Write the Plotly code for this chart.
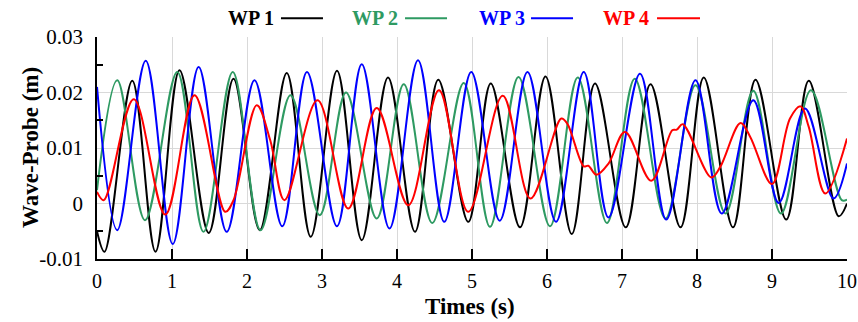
import plotly.graph_objects as go

# ---- data ----
t_wp1 = [0, 0.10, 0.47, 0.78, 1.10, 1.49, 1.82, 2.17, 2.53, 2.85, 3.20, 3.53, 3.88, 4.24, 4.55,
         4.95, 5.25, 5.64, 5.98, 6.33, 6.64, 7.05, 7.38, 7.78, 8.09, 8.48, 8.78, 9.19, 9.49, 9.89, 10.0]
v_wp1 = [-0.005, -0.0087, 0.0221, -0.0087, 0.024, -0.0053, 0.0225, -0.0048, 0.0235, -0.006, 0.0239,
         -0.0066, 0.0227, -0.0051, 0.0223, -0.0033, 0.0216, -0.0043, 0.0229, -0.0055, 0.0216, -0.0043,
         0.0215, -0.0043, 0.0227, -0.0043, 0.0223, -0.0029, 0.0221, -0.0023, 0.0]

t_wp2 = [0, 0.27, 0.64, 1.07, 1.42, 1.81, 2.18, 2.58, 2.97, 3.32, 3.73, 4.09, 4.47, 4.89, 5.24,
         5.62, 6.04, 6.41, 6.80, 7.17, 7.58, 7.98, 8.38, 8.75, 9.12, 9.52, 9.93, 10.0]
v_wp2 = [0.0024, 0.0222, -0.003, 0.0237, -0.0051, 0.0237, -0.0048, 0.0195, -0.0021, 0.020, -0.0027,
         0.0215, -0.0035, 0.0217, -0.0042, 0.0228, -0.0041, 0.0227, -0.0035, 0.0225, -0.0027, 0.0213,
         -0.0018, 0.0203, -0.0018, 0.0204, 0.0006, 0.0007]

t_wp3 = [0, 0.27, 0.65, 1.01, 1.355, 1.73, 2.10, 2.47, 2.80, 3.20, 3.53, 3.90, 4.28, 4.63, 4.99,
         5.37, 5.74, 6.12, 6.49, 6.82, 7.24, 7.59, 7.98, 8.33, 8.75, 9.09, 9.44, 9.82, 10.0]
v_wp3 = [0.021, -0.0048, 0.0257, -0.0073, 0.0246, -0.0051, 0.0222, -0.0041, 0.0237, -0.0041, 0.0251,
         -0.0045, 0.0258, -0.0033, 0.0237, -0.0031, 0.0237, -0.0033, 0.0237, -0.0025, 0.0234, -0.0029,
         0.0222, -0.0018, 0.0186, 0.0001, 0.0171, 0.0009, 0.0072]

t_wp4 = [0, 0.09, 0.49, 0.91, 1.30, 1.71, 1.82, 2.13, 2.31, 2.50, 2.94, 3.35, 3.73, 4.15, 4.56,
         4.95, 5.41, 5.78, 6.19, 6.27, 6.49, 6.55, 6.66, 6.82, 7.04, 7.39, 7.67, 7.73, 7.81, 8.19,
         8.31, 8.58, 8.71, 9.0, 9.24, 9.38, 9.49, 9.71, 10.0]
v_wp4 = [0.0021, 0.0006, 0.0188, -0.002, 0.0195, -0.0015, 0.0006, 0.0177, 0.0114, 0.0006, 0.0186,
         -0.0009, 0.0172, -0.0003, 0.0204, -0.0015, 0.0194, 0.0009, 0.0153, 0.0144, 0.0067, 0.0068,
         0.0052, 0.0072, 0.0129, 0.0041, 0.0132, 0.0133, 0.0143, 0.0047, 0.0066, 0.0145, 0.012,
         0.0035, 0.0153, 0.0175, 0.0138, 0.0018, 0.0117]

series_names = ["WP 1", "WP 2", "WP 3", "WP 4"]
series_colors = ["#000000", "#2E9A62", "#0000FF", "#FF0000"]

x_ticks = [0, 1, 2, 3, 4, 5, 6, 7, 8, 9, 10]
y_ticks = [-0.01, 0, 0.01, 0.02, 0.03]
y_ticktext = ["-0.01", "0", "0.01", "0.02", "0.03"]
y_minor = [-0.005, 0.005, 0.015, 0.025]

x_title = "Times (s)"
y_title = "Wave-Probe (m)"

# legend placement (paper coords): text right edge, line start, line end
leg_text_x = [0.2387, 0.4040, 0.5733, 0.7387]
leg_line_x0 = [0.2453, 0.4107, 0.5787, 0.7467]
leg_line_x1 = [0.3013, 0.4667, 0.6347, 0.8040]
leg_y = 1.085

FONT = "Liberation Serif"

fig = go.Figure()
for t, v, name, col in zip([t_wp1, t_wp2, t_wp3, t_wp4], [v_wp1, v_wp2, v_wp3, v_wp4],
                           series_names, series_colors):
    fig.add_trace(go.Scatter(x=t, y=v, mode="lines", name=name, showlegend=False,
                             line=dict(color=col, width=2, shape="spline", smoothing=1.0)))

for i, (name, col) in enumerate(zip(series_names, series_colors)):
    fig.add_annotation(x=leg_text_x[i], y=leg_y, xref="paper", yref="paper", text=f"<b>{name}</b>",
                       showarrow=False, xanchor="right", yanchor="middle",
                       font=dict(family=FONT, size=20, color=col))
    fig.add_shape(type="line", xref="paper", yref="paper", x0=leg_line_x0[i], x1=leg_line_x1[i],
                  y0=leg_y, y1=leg_y, line=dict(color=col, width=2))

fig.add_annotation(x=0.497, y=-0.212, xref="paper", yref="paper", text=f"<b>{x_title}</b>",
                   showarrow=False, xanchor="center", yanchor="middle",
                   font=dict(family=FONT, size=23, color="black"))
fig.add_annotation(x=-0.0893, y=0.5, xref="paper", yref="paper", text=f"<b>{y_title}</b>",
                   showarrow=False, xanchor="center", yanchor="middle", textangle=-90,
                   font=dict(family=FONT, size=23, color="black"))

fig.update_layout(
    width=858, height=322,
    margin=dict(l=97, r=11, t=37, b=63, autoexpand=False),
    paper_bgcolor="white", plot_bgcolor="white",
    font=dict(family=FONT, size=20, color="black"),
    showlegend=False,
)
fig.update_xaxes(
    range=[0, 10], tickvals=x_ticks, ticks="inside", ticklen=10, tickcolor="black", tickwidth=1.5,
    showgrid=True, gridcolor="#d9d9d9", gridwidth=1, automargin=False,
    showline=True, linecolor="black", linewidth=1.5, zeroline=False,
    tickfont=dict(family=FONT, size=20), ticklabelstandoff=3,
)
fig.update_yaxes(
    range=[-0.01, 0.03], tickvals=y_ticks, ticktext=y_ticktext, ticks="",
    minor=dict(tickvals=y_minor, ticks="inside", ticklen=6, tickcolor="black", tickwidth=1.5, showgrid=False),
    showgrid=True, gridcolor="#d9d9d9", gridwidth=1, automargin=False,
    showline=True, linecolor="black", linewidth=1.5, zeroline=False,
    tickfont=dict(family=FONT, size=21), ticklabelstandoff=8,
)

fig.write_html("out.html", config={"displayModeBar": False},
               post_script="document.body.style.margin='0px';")
